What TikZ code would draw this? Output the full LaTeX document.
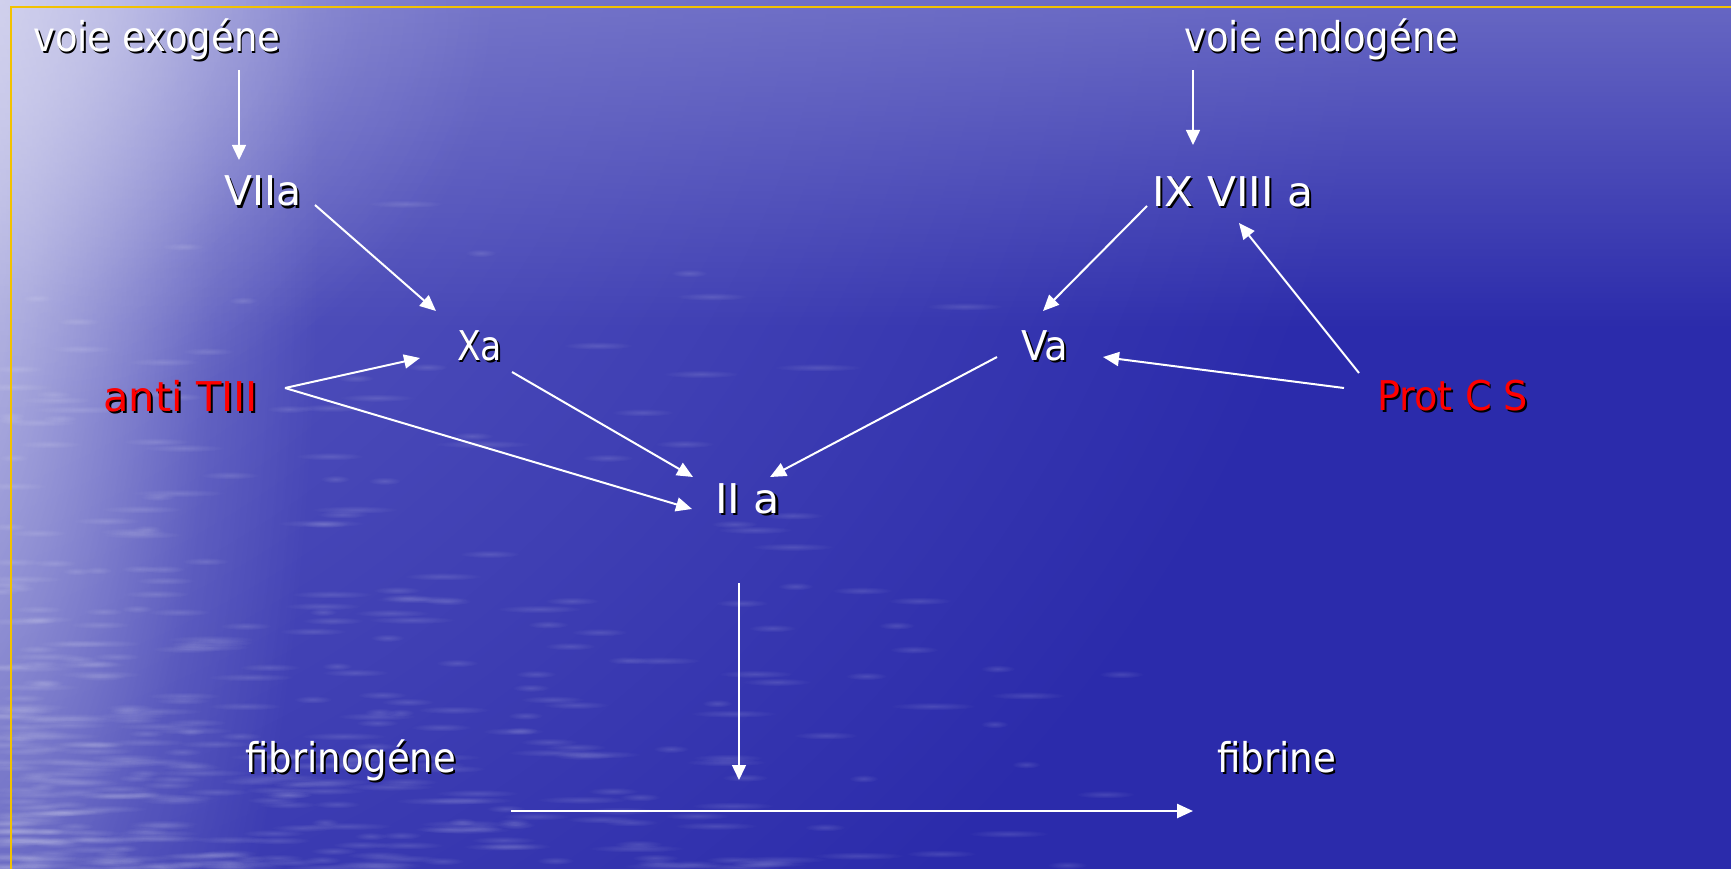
\documentclass[tikz,border=0pt]{standalone}
\usepackage{fontspec}
\setmainfont{DejaVu Sans}
\usepackage{graphicx}
\usetikzlibrary{arrows.meta,calc,fadings}
\definecolor{bgbase}{HTML}{2B2BAB}
\definecolor{bgmid}{HTML}{6A6AC6}
\definecolor{bglight}{HTML}{E6E6F6}
\definecolor{topband}{HTML}{8C8CD2}
\definecolor{goldline}{HTML}{F2C200}
\definecolor{lblred}{HTML}{FF0000}
\newcommand\shd[1]{\rlap{\kern2pt\raisebox{-2pt}{\color{black}#1}}#1}
\newcommand\fitw[2]{\resizebox{#1pt}{\height}{\shd{#2}}}
\tikzfading[name=glowfade, inner color=transparent!0, outer color=transparent!100]
\pgfdeclareradialshading{softglowshade}{\pgfpointorigin}{color(0bp)=(pgftransparent!0); color(6bp)=(pgftransparent!20); color(12bp)=(pgftransparent!50); color(18bp)=(pgftransparent!80); color(25bp)=(pgftransparent!100); color(50bp)=(pgftransparent!100)}
\pgfdeclarefading{softglow}{\pgfuseshading{softglowshade}}
\begin{document}
\begin{tikzpicture}[x=1pt,y=-1pt,
  lbl/.style={anchor=base west, inner sep=0pt, text=white, font=\fontsize{41}{48}\selectfont},
  redlbl/.style={lbl, text=lblred},
  arr/.style={draw=white, line width=2pt, -{Triangle[length=16pt,width=14pt]}},
  thinarr/.style={draw=white, line width=1.5pt, -{Triangle[length=15pt,width=14pt]}}]
\useasboundingbox (0,0) rectangle (1731,869);
% background
\begin{scope}
\clip (0,0) rectangle (1731,869);
\fill[bgbase] (-50,-50) rectangle (1800,950);
\fill[bgmid, path fading=glowfade] (-300,-150) ellipse[x radius=1700pt, y radius=1500pt];
\fill[topband, path fading=south, fill opacity=0.7] (-50,-40) rectangle (1800,330);
\fill[bglight, path fading=softglow, fill opacity=0.7] (-60,220) ellipse[x radius=380pt, y radius=1200pt];
\fill[bglight, path fading=softglow, fill opacity=0.55] (0,0) ellipse[x radius=500pt, y radius=420pt];
\pgfmathsetseed{11}
\foreach \i in {1,...,420}{
  \pgfmathsetmacro\px{rnd*rnd*1150}
  \pgfmathsetmacro\py{869-rnd*rnd*680}
  \pgfmathsetmacro\rw{14+rnd*36}
  \fill[white, fill opacity=0.13, path fading=glowfade] (\px,\py) ellipse[x radius=\rw pt, y radius=4pt];
}
\end{scope}
\draw[goldline, line width=2pt] (11,869) -- (11,7) -- (1731,7);
% labels
\node[lbl] (exo) at (33,52) {\fitw{247}{voie exogéne}};
\node[lbl] (endo) at (1184,52) {\fitw{274}{voie endogéne}};
\node[lbl] (VIIa) at (224,206) {\fitw{77}{VIIa}};
\node[lbl] (IXVIII) at (1152,207) {\fitw{161}{IX VIII a}};
\node[lbl] (Xa) at (457,360) {\fitw{45}{Xa}};
\node[lbl] (Va) at (1021,360) {\fitw{47}{Va}};
\node[redlbl] (anti) at (103,411) {\fitw{155}{anti TIII}};
\node[redlbl] (prot) at (1377,410) {\fitw{151}{Prot C S}};
\node[lbl] (IIa) at (715,513) {\fitw{65}{II a}};
\node[lbl] (fibg) at (245,772) {\fitw{211}{fibrinogéne}};
\node[lbl] (fib) at (1217,772) {\fitw{119}{fibrine}};
\coordinate (react) at (739,780);
% connectors
\draw[thinarr] ($(exo.base west)+(206,18)$) -- ($(VIIa.base west)+(15,-46)$);
\draw[thinarr] ($(endo.base west)+(9,18)$) -- ($(IXVIII.base west)+(41,-62)$);
\draw[arr] ($(VIIa.base west)+(91,-1)$) -- ($(Xa.base west)+(-21,-49)$);
\draw[arr] ($(anti.base west)+(182,-23)$) -- ($(Xa.base west)+(-37,-2)$);
\draw[arr] ($(anti.base west)+(182,-23)$) -- ($(IIa.base west)+(-23,-4)$);
\draw[arr] ($(Xa.base west)+(55,12)$) -- ($(IIa.base west)+(-22,-36)$);
\draw[arr] ($(Va.base west)+(-24,-3)$) -- ($(IIa.base west)+(55,-36)$);
\draw[arr] ($(IXVIII.base west)+(-5,-1)$) -- ($(Va.base west)+(22,-49)$);
\draw[arr] ($(prot.base west)+(-18,-37)$) -- ($(IXVIII.base west)+(87,16)$);
\draw[arr] ($(prot.base west)+(-33,-22)$) -- ($(Va.base west)+(82,-3)$);
\draw[thinarr] ($(IIa.base west)+(24,70)$) -- (react);
\draw[arr, line width=2.5pt] ($(fibg.base west)+(266,39)$) -- ($(fib.base west)+(-24,39)$);
\end{tikzpicture}
\end{document}
